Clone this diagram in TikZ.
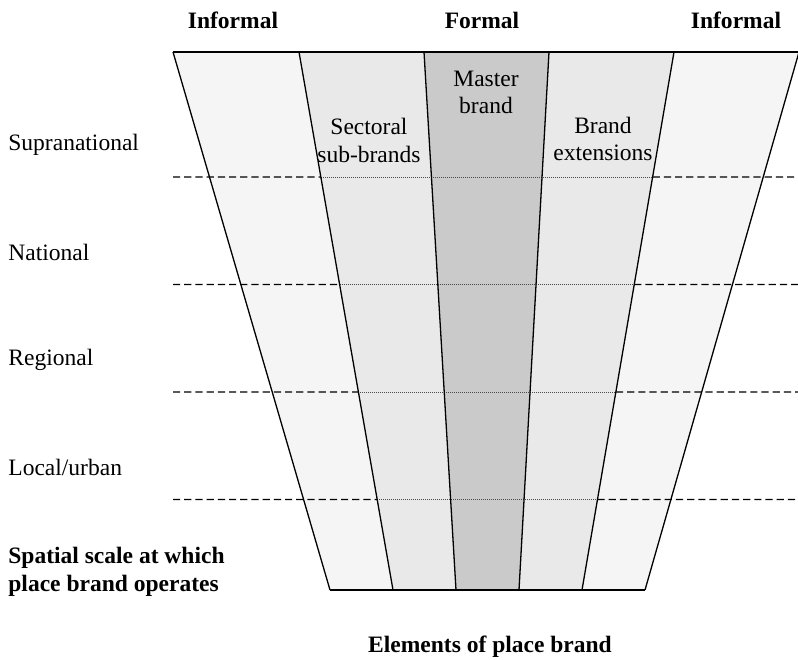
\documentclass[tikz,border=0pt]{standalone}
\usepackage{fontspec}
\setmainfont{Liberation Serif}
\usetikzlibrary{calc,positioning}

\definecolor{informal}{HTML}{F5F5F5}
\definecolor{sectoral}{HTML}{E9E9E9}
\definecolor{master}{HTML}{CACACA}

\begin{document}
\begin{tikzpicture}[
    x=0.5bp, y=-0.5bp,
    every node/.style = {inner sep=0pt, font=\fontsize{11.8}{13.8}\selectfont},
    head/.style   = {font=\fontsize{11.8}{13.8}\selectfont\bfseries},
    border/.style = {line width=0.65bp},
    edge/.style   = {line width=1bp},
    level/.style  = {dash pattern=on 3.6bp off 2bp, line width=0.65bp},
    inner/.style  = {dash pattern=on 0.5bp off 0.5bp, line width=0.45bp, black!70},
  ]

	\useasboundingbox (0,0) rectangle (798,660);

	% Eckpunkte der Spalten (oben / unten)
	\foreach \t/\b [count=\i from 0] in {173/330, 299/393, 424/456, 549/519, 674/582, 799/645} {
		\coordinate (T\i) at (\t,52);
		\coordinate (B\i) at (\b,590);
	}

	% Spalten
	\fill[informal] (T0) -- (T1) -- (B1) -- (B0) -- cycle;
	\fill[sectoral] (T1) -- (T2) -- (B2) -- (B1) -- cycle;
	\fill[master]   (T2) -- (T3) -- (B3) -- (B2) -- cycle;
	\fill[sectoral] (T3) -- (T4) -- (B4) -- (B3) -- cycle;
	\fill[informal] (T4) -- (T5) -- (B5) -- (B4) -- cycle;

	% Ebenen
	\foreach \y/\lab [count=\i] in {177/Supranational, 284.5/National, 392/Regional, 499.5/{Local/urban}} {
		\pgfmathsetmacro\f{(\y-52)/538}
		\coordinate (S\i) at (173,\y);
		\coordinate (E\i) at (798,\y);
		\coordinate (L\i) at ($(T1)!\f!(B1)$);
		\coordinate (R\i) at ($(T4)!\f!(B4)$);
		\draw[level] (S\i) -- (L\i);
		\draw[inner] (L\i) -- (R\i);
		\draw[level] (R\i) -- (E\i);
		\node[anchor=west] (lev\i) at (8,\y-32) {\lab};
	}

	% Begrenzungen
	\foreach \i in {0,...,5} {
		\draw[border] (T\i) -- (B\i);
	}
	\draw[edge] (T0) -- (T5);
	\draw[edge] (B0) -- (B5);

	% Beschriftungen
	\node[head] (inf1) at (233,20) {Informal};
	\node[head] (form) at (482,20) {Formal};
	\node[head] (inf2) at (736,20) {Informal};

	\node[align=center] (mast) at (486,92.5) {Master\\brand};
	\node[align=center] (sect) at (369,140.5) {Sectoral\\sub-brands};
	\node[align=center] (ext)  at (603,139) {Brand\\extensions};

	\node[head, align=left, anchor=west] (scal) at (8,572) {Spatial scale at which\\place brand operates};
	\node[head] (elem) at (490,647) {Elements of place brand};

\end{tikzpicture}
\end{document}
